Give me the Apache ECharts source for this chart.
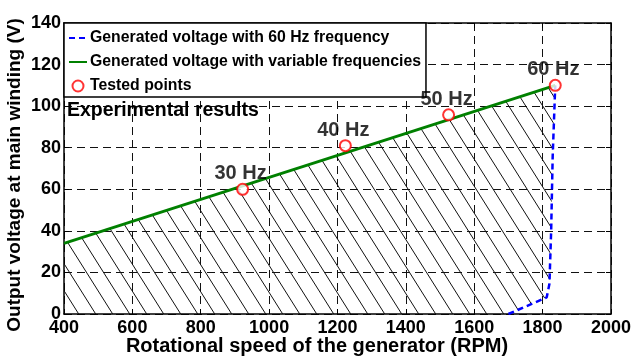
<!DOCTYPE html>
<html>
<head>
<meta charset="utf-8">
<script src="https://cdn.jsdelivr.net/npm/echarts@6/dist/echarts.min.js"></script>
<style>
html,body{margin:0;padding:0;background:#fff;}
#chart{width:634px;height:358px;}
</style>
</head>
<body>
<div id="chart"></div>
<script>
// ---- data ----
const xTicks = [400, 600, 800, 1000, 1200, 1400, 1600, 1800, 2000];
const yTicks = [0, 20, 40, 60, 80, 100, 120, 140];

const greenRpm = [400, 1837];
const greenVolt = [34, 110];

const blueRpm = [1700, 1812, 1820, 1825, 1829.5, 1837];
const blueVolt = [0, 8, 14.5, 40, 76, 110];

const testRpm = [922.5, 1223, 1525, 1837];
const testVolt = [60, 81, 95.8, 110];
const testLabels = ['30 Hz', '40 Hz', '50 Hz', '60 Hz'];

const legendNames = ['Generated voltage with 60 Hz frequency', 'Generated voltage with variable frequencies', 'Tested points'];
const xTitle = 'Rotational speed of the generator (RPM)';
const yTitle = 'Output voltage at main winding (V)';
const noteText = 'Experimental results';

// ---- build ----
const FONT = '"Liberation Sans", Arial, Helvetica, sans-serif';
const greenData = greenRpm.map((x, i) => [x, greenVolt[i]]);
const blueData = blueRpm.map((x, i) => [x, blueVolt[i]]);
const testData = testRpm.map((x, i) => [x, testVolt[i]]);
const hatchData = greenData.concat(blueData.slice(0, -1).reverse());

function hatchPattern() {
  const W = 17, H = 27;
  const c = document.createElement('canvas');
  c.width = W; c.height = H;
  const g = c.getContext('2d');
  g.strokeStyle = '#111';
  g.lineWidth = 1;
  for (let k = -1; k <= 1; k++) {
    g.beginPath();
    g.moveTo(k * W - W, -H);
    g.lineTo(k * W + 2 * W, 2 * H);
    g.stroke();
  }
  return c;
}

const chart = echarts.init(document.getElementById('chart'), null, {renderer: 'canvas'});
const axisLine = {show: true, onZero: false, lineStyle: {color: '#000', width: 1.5}};
const tick = {show: true, inside: true, length: 5, lineStyle: {color: '#000', width: 1}};
const split = {show: true, lineStyle: {color: '#111', type: [8, 5], width: 1}};
const lbl = {fontFamily: FONT, fontWeight: 'bold', fontSize: 18, color: '#000', formatter: v => String(v)};

chart.setOption({
  animation: false,
  backgroundColor: '#fff',
  grid: {left: 64, right: 22, top: 23, bottom: 44},
  xAxis: [
    {type: 'value', min: xTicks[0], max: xTicks[xTicks.length - 1], interval: 200,
     axisLine, axisTick: tick, splitLine: split,
     axisLabel: Object.assign({margin: 5}, lbl)},
    {type: 'value', position: 'top', min: xTicks[0], max: xTicks[xTicks.length - 1], interval: 200,
     axisLine, axisTick: tick, splitLine: {show: false}, axisLabel: {show: false}}
  ],
  yAxis: [
    {type: 'value', min: yTicks[0], max: yTicks[yTicks.length - 1], interval: 20,
     axisLine, axisTick: tick, splitLine: split,
     axisLabel: Object.assign({margin: 3}, lbl)},
    {type: 'value', position: 'right', min: yTicks[0], max: yTicks[yTicks.length - 1], interval: 20,
     axisLine, axisTick: tick, splitLine: {show: false}, axisLabel: {show: false}}
  ],
  legend: {
    data: [
      {name: legendNames[0], itemStyle: {opacity: 0}},
      {name: legendNames[1], itemStyle: {opacity: 0}},
      {name: legendNames[2], icon: 'circle', itemStyle: {color: '#fff', borderColor: '#ff0000', borderWidth: 2}}
    ],
    orient: 'vertical',
    left: 64, top: 23,
    backgroundColor: '#fff',
    borderColor: '#000', borderWidth: 1.5, borderRadius: 0,
    padding: [7, 5, 3, 4],
    itemGap: 8, itemWidth: 18, itemHeight: 11,
    textStyle: {fontFamily: FONT, fontWeight: 'bold', fontSize: 15.8, color: '#000', padding: [0, 0, 0, -2]}
  },
  graphic: [
    {type: 'text', left: 67, top: 101, z: 10,
     style: {text: noteText, font: 'bold 19.5px ' + FONT, fill: '#000'}},
    {type: 'text', x: 317, y: 346, z: 10,
     style: {text: xTitle, font: 'bold 20px ' + FONT, fill: '#000', align: 'center', verticalAlign: 'middle'}},
    {type: 'text', x: 15, y: 175, rotation: Math.PI / 2, z: 10,
     style: {text: yTitle, font: 'bold 19px ' + FONT, fill: '#000', align: 'center', verticalAlign: 'middle'}}
  ],
  series: [
    {type: 'line', name: 'hatch', data: hatchData, symbol: 'none', silent: true, z: 1,
     lineStyle: {width: 0, opacity: 0},
     areaStyle: {color: {image: hatchPattern(), repeat: 'repeat'}, opacity: 1}},
    {type: 'line', name: legendNames[0], data: blueData, symbol: 'none', z: 3,
     lineStyle: {color: '#0000ff', width: 2.5, type: [6, 4]}, itemStyle: {color: '#0000ff'}},
    {type: 'line', name: legendNames[1], data: greenData, symbol: 'none', z: 3,
     lineStyle: {color: '#008000', width: 2.8}, itemStyle: {color: '#008000'}},
    {type: 'scatter', name: legendNames[2], data: testData, symbol: 'circle', symbolSize: 11, z: 4,
     itemStyle: {color: '#fff', borderColor: '#ff0000', borderWidth: 2},
     label: {show: true, position: 'top', distance: -1, offset: [-2, 0],
       formatter: p => testLabels[p.dataIndex],
       fontFamily: FONT, fontWeight: 'bold', fontSize: 20, color: '#000'}}
  ]
});
</script>
</body>
</html>
